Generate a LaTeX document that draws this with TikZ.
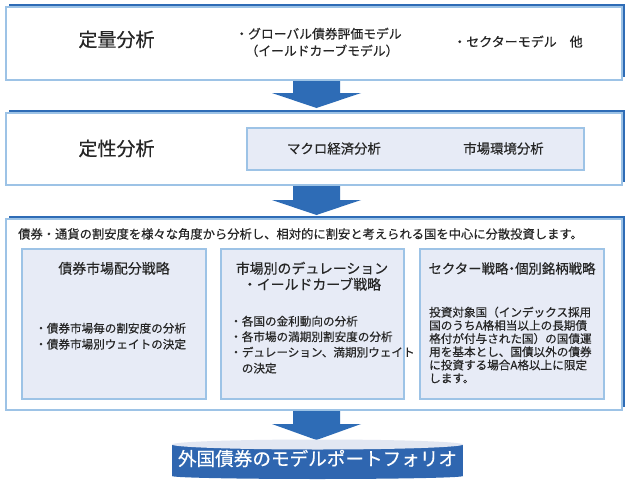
\documentclass[tikz,border=0pt]{standalone}
\usepackage{fontspec}
\setmainfont{Noto Sans CJK JP}[FakeBold=0.4]
\usetikzlibrary{backgrounds}
\definecolor{arrowblue}{RGB}{46,108,182}
\definecolor{lineblue}{RGB}{157,195,230}
\definecolor{lav}{RGB}{231,235,246}
\definecolor{bannerblue}{RGB}{47,102,176}
\definecolor{bannertop}{RGB}{226,231,242}
\definecolor{ink}{RGB}{38,38,38}
\newcommand\fsz[1]{\fontsize{#1}{#1}\selectfont}
\begin{document}
\begin{tikzpicture}[x=1pt,y=-1pt,
  panel/.style={draw=lineblue, line width=1.5pt, fill=white, inner sep=0pt, minimum width=616pt},
  subpanel/.style={draw=lineblue, line width=1.2pt, fill=lav, inner sep=0pt},
  txt/.style={inner sep=0pt, text height=0.86em, text depth=0.14em, text=ink},
  shadowfill/.style={fill=arrowblue},
  blockarrow/.style={fill=arrowblue}]
\useasboundingbox (0,0) rectangle (630,482);
\begin{scope}[on background layer]
\fill[white] (0,0) rectangle (630,482);
\end{scope}

% panel shadows
\fill[shadowfill] (9,4) rectangle (625,77);
\fill[shadowfill] (9,110) rectangle (625,182);
\fill[shadowfill] (9,216) rectangle (625,407);

% panels
\node[panel, minimum height=73pt] (q) at (314,43.5) {};
\node[panel, minimum height=72pt] (s) at (314,149) {};
\node[panel, minimum height=191pt] (m) at (314,314.5) {};

% quantitative
\node[txt, font=\fsz{19}] (qt) at (116.5,43) {定量分析};
\node[txt, font=\fsz{12.8}] (q1) at (318.5,35) {・グローバル債券評価モデル};
\node[txt, font=\fsz{12.8}] (q2) at (322,52) {（イールドカーブモデル）};
\node[txt, font=\fsz{13}] (q3) at (518,43) {・セクターモデル　他};

% qualitative
\node[txt, font=\fsz{19}] (st) at (116.5,152) {定性分析};
\node[subpanel, minimum width=337pt, minimum height=42pt] (sb) at (415.5,149) {};
\node[txt, font=\fsz{13.4}] (s1) at (334,150) {マクロ経済分析};
\node[txt, font=\fsz{13.4}] (s2) at (503.5,150) {市場環境分析};

% main box
\node[txt, font=\fsz{12.3}, anchor=west] (mh) at (18,235) {債券・通貨の割安度を様々な角度から分析し、相対的に割安と考えられる国を中心に分散投資します。};
\node[subpanel, minimum width=184pt, minimum height=150pt] (ba) at (114,324) {};
\node[subpanel, minimum width=183pt, minimum height=150pt] (bb) at (312.5,324) {};
\node[subpanel, minimum width=184pt, minimum height=150pt] (bc) at (512,324) {};

\node[txt, font=\fsz{13.9}] (ta) at (114,270) {債券市場配分戦略};
\node[txt, font=\fsz{13.9}] (tb1) at (312,270) {市場別のデュレーション};
\node[txt, font=\fsz{13.9}] (tb2) at (312,286) {・イールドカーブ戦略};
\node[txt, font=\fsz{13.4}] (tc) at (512,270) {セクター戦略\kern-0.25em・\kern-0.25em個別銘柄戦略};

\node[txt, font=\fsz{11.6}, anchor=west] (a1) at (35,329) {・債券市場毎の割安度の分析};
\node[txt, font=\fsz{11.6}, anchor=west] (a2) at (35,345) {・債券市場別ウェイトの決定};

\node[txt, font=\fsz{11.6}, anchor=west] (b1) at (230,322) {・各国の金利動向の分析};
\node[txt, font=\fsz{11.6}, anchor=west] (b2) at (230,337.5) {・各市場の満期別割安度の分析};
\node[txt, font=\fsz{11.6}, anchor=west] (b3) at (230,353) {・デュレーション、満期別ウェイト};
\node[txt, font=\fsz{11.6}, anchor=west] (b4) at (241.6,369) {の決定};

\node[txt, font=\fsz{11.6}, anchor=west] (c1) at (429,313) {投資対象国（インデックス採用};
\node[txt, font=\fsz{11.6}, anchor=west] (c2) at (429,326.2) {国のうちA格相当以上の長期債};
\node[txt, font=\fsz{11.6}, anchor=west] (c3) at (429,339.4) {格付が付与された国）の国債運};
\node[txt, font=\fsz{11.6}, anchor=west] (c4) at (429,352.6) {用を基本とし、国債以外の債券};
\node[txt, font=\fsz{11.6}, anchor=west] (c5) at (429,365.8) {に投資する場合A格以上に限定};
\node[txt, font=\fsz{11.6}, anchor=west] (c6) at (429,379) {します。};

% block arrows
\fill[blockarrow] (293,81) -- (340,81) -- (340,93) -- (361,93) -- (316.5,108) -- (272,93) -- (293,93) -- cycle;
\fill[blockarrow] (293,186) -- (340,186) -- (340,200) -- (361,200) -- (316.5,215) -- (272,200) -- (293,200) -- cycle;
\fill[blockarrow] (293,411) -- (340,411) -- (340,424) -- (361,424) -- (316.5,440) -- (272,424) -- (293,424) -- cycle;

% banner
\fill[bannerblue] (172,444.5) rectangle (463,476);
\fill[bannerblue] (317.5,476) ellipse [x radius=145.5, y radius=3];
\fill[bannertop] (317.5,444.5) ellipse [x radius=145.5, y radius=5];
\node[txt, font=\fsz{18.6}, text=white] (bn) at (317.5,462) {外国債券のモデルポートフォリオ};
\end{tikzpicture}
\end{document}
